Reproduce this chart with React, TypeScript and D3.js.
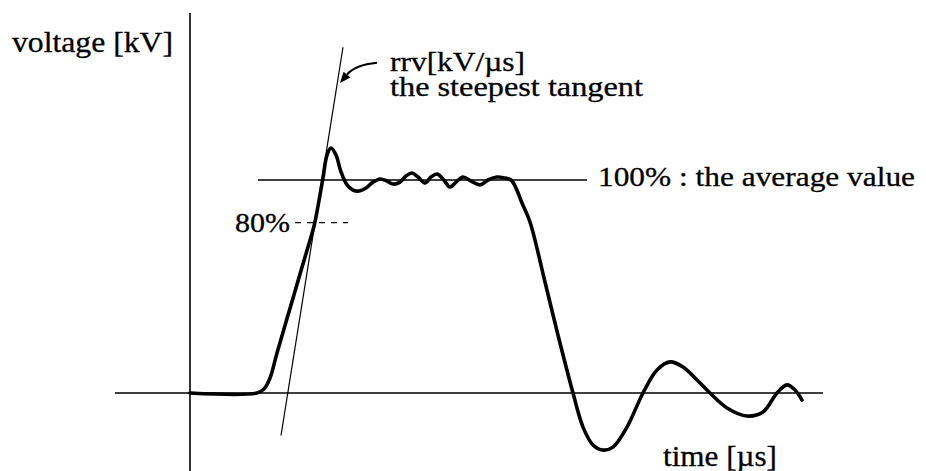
import React from 'react';
import * as d3 from 'd3';

// time in µs, voltage in % of the average (100%) value
const timeUs = [
  -1.5, 0, 1.34, 1.48, 1.6, 1.74, 2.02, 2.3, 2.46, 2.5, 2.6, 2.66, 2.74, 2.82, 2.92, 3.02,
  3.14, 3.26, 3.38, 3.52, 3.66, 3.8, 3.94, 4.06, 4.2, 4.32, 4.44, 4.56, 4.7, 4.82,
  4.94, 5.06, 5.2, 5.32, 5.46, 5.62, 5.8, 5.96, 6.14, 6.3, 6.42, 6.52, 6.64, 6.8,
  7.1, 7.36, 7.66, 7.86, 8.06, 8.26, 8.46, 8.74, 9.06, 9.34, 9.6, 9.86, 10.14,
  10.4, 10.74, 11.14, 11.46, 11.74, 11.94, 12.1, 12.24,
];
const voltagePct = [
  0, 0, 0, 1.9, 7, 18.8, 41.3, 63.8, 76.5, 80.3, 93, 101, 111.7, 115, 111.7, 103.8,
  97.7, 95.3, 94.8, 96.2, 99, 100.5, 99.5, 98.1, 99, 101.9, 103.3, 101.4, 98.6, 101.4,
  102.8, 100.5, 96.7, 99, 101.4, 99.5, 97.7, 100, 101.4, 100.9, 100, 96.2, 89.2, 80.3,
  52.1, 27.2, 0, -16, -24.4, -26.8, -25.4, -16, 0, 10.8, 14.6, 12.2, 6.1,
  0, -7, -10.8, -8.9, 0, 3.8, 1.4, -3.3,
];
// waveform starts at the vertical axis
const waveStartIndex = 1;

const averageLevel = 100;
const averageSpan = [1.36, 7.94];
const level80 = 80;
const level80Span = [2.1, 3.16];
const baselineSpan = [-1.5, 12.66];
const axisSpan = [-40, 178.4];
const tangentPoint = [2.5, 80];
const tangentSlope = 147; // %/µs
const tangentSpan = [1.82, 3.06];

const labels = {
  yTitle: 'voltage [kV]',
  xTitle: 'time [µs]',
  rrv: 'rrv[kV/µs]',
  steepest: 'the steepest tangent',
  avg: '100% : the average value',
  p80: '80%',
};

export default function App() {
  const W = 926, H = 471;
  const x = d3.scaleLinear().domain([-1.5, 12.7]).range([115, 825]);
  const y = d3.scaleLinear().domain([0, 100]).range([393, 180]);

  const pts: [number, number][] = timeUs
    .map((t, i) => [t, voltagePct[i]] as [number, number])
    .slice(waveStartIndex);
  const line = d3
    .line<[number, number]>()
    .x((d) => x(d[0]))
    .y((d) => y(d[1]))
    .curve(d3.curveCatmullRom.alpha(0.5));

  const tv = (t: number) => tangentPoint[1] + tangentSlope * (t - tangentPoint[0]);

  // arrow annotation
  const ax0 = x(3.74), ay0 = y(155);
  const ax1 = x(3.0), ay1 = y(145.5);
  const cx = x(3.3), cy = y(154);
  const ang = Math.atan2(ay1 - cy, ax1 - cx);
  const hl = 11, hw = 4.5;
  const bx = ax1 - hl * Math.cos(ang), by = ay1 - hl * Math.sin(ang);
  const head = [
    [ax1, ay1],
    [bx + hw * Math.sin(ang), by - hw * Math.cos(ang)],
    [bx - hw * Math.sin(ang), by + hw * Math.cos(ang)],
  ];

  const font = 'Liberation Serif';
  const ts = { fontFamily: font, fontSize: 28 } as React.CSSProperties;
  const tl = { fontFamily: font, fontSize: 29 } as React.CSSProperties;

  return (
    <svg
      width={W}
      height={H}
      style={{ position: 'absolute', left: 0, top: 0, background: '#fff' }}
    >
      <rect width={W} height={H} fill="#fff" />
      {/* vertical axis */}
      <line x1={x(0)} x2={x(0)} y1={y(axisSpan[1])} y2={y(axisSpan[0])} stroke="#000" strokeWidth={1.6} />
      {/* baseline */}
      <line x1={x(baselineSpan[0])} x2={x(baselineSpan[1])} y1={y(0)} y2={y(0)} stroke="#000" strokeWidth={1.5} />
      {/* 100% line */}
      <line x1={x(averageSpan[0])} x2={x(averageSpan[1])} y1={y(averageLevel)} y2={y(averageLevel)} stroke="#000" strokeWidth={1.5} />
      {/* 80% dashed */}
      <line x1={x(level80Span[0])} x2={x(level80Span[1])} y1={y(level80)} y2={y(level80)} stroke="#000" strokeWidth={1.3} strokeDasharray="6,6" />
      {/* tangent */}
      <line x1={x(tangentSpan[0])} x2={x(tangentSpan[1])} y1={y(tv(tangentSpan[0]))} y2={y(tv(tangentSpan[1]))} stroke="#000" strokeWidth={1.2} />
      {/* waveform */}
      <path d={line(pts) || ''} fill="none" stroke="#000" strokeWidth={3.6} strokeLinejoin="round" strokeLinecap="round" />
      {/* arrow */}
      <path d={`M${ax0},${ay0} Q${cx},${cy} ${bx},${by}`} fill="none" stroke="#000" strokeWidth={2} />
      <polygon points={head.map((p) => p.join(',')).join(' ')} fill="#000" />

      <g fill="#000" stroke="#000" strokeWidth={0.3}>
        <text x={12} y={52} textLength={161} lengthAdjust="spacingAndGlyphs" style={tl}>{labels.yTitle}</text>
        <text x={390} y={71} textLength={135} lengthAdjust="spacingAndGlyphs" style={ts}>{labels.rrv}</text>
        <text x={390} y={96} textLength={253} lengthAdjust="spacingAndGlyphs" style={ts}>{labels.steepest}</text>
        <text x={598} y={186} textLength={317} lengthAdjust="spacingAndGlyphs" style={ts}>{labels.avg}</text>
        <text x={235} y={232} textLength={55} lengthAdjust="spacingAndGlyphs" style={ts}>{labels.p80}</text>
        <text x={663} y={466} textLength={114} lengthAdjust="spacingAndGlyphs" style={tl}>{labels.xTitle}</text>
      </g>
    </svg>
  );
}
